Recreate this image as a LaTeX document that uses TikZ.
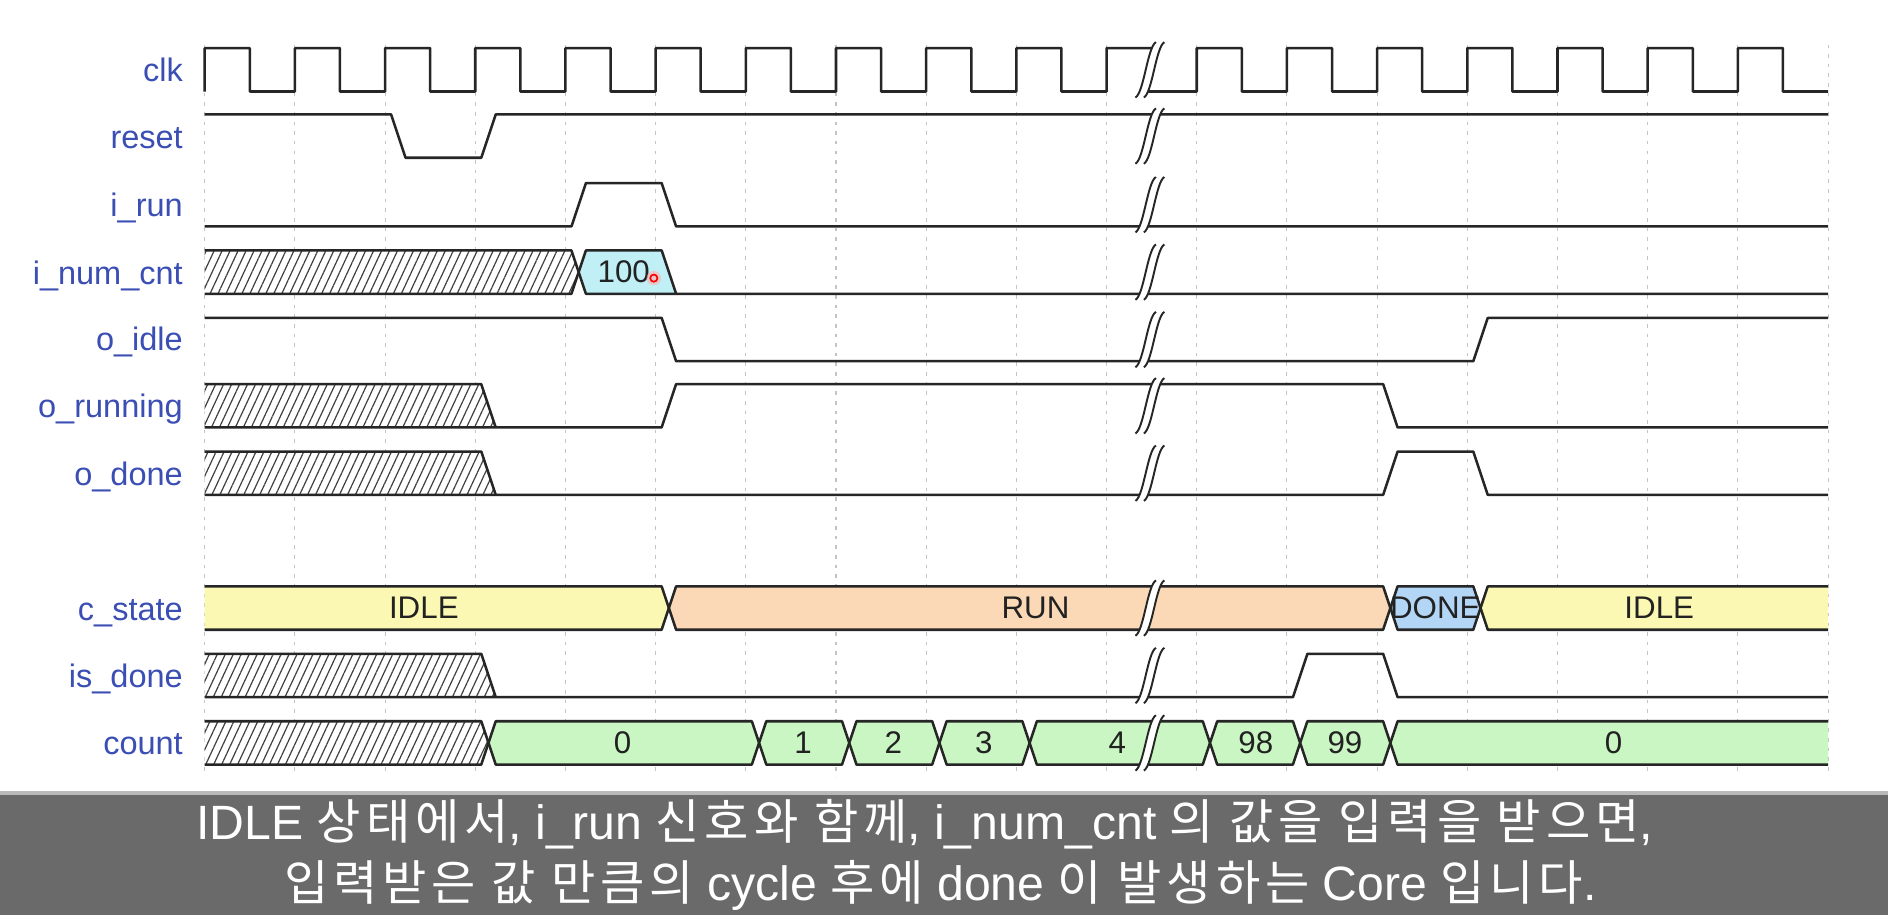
\documentclass[tikz,border=0pt]{standalone}
\usepackage{fontspec}
\setmainfont{Liberation Sans}
\newfontfamily\krfont[LetterSpace=10]{Noto Sans CJK KR}
\usetikzlibrary{patterns.meta}
\definecolor{wavec}{HTML}{262626}
\definecolor{lblc}{HTML}{3A4EB4}
\definecolor{gridc}{HTML}{C4C4C4}
\definecolor{idlec}{HTML}{FBF8B4}
\definecolor{runc}{HTML}{FBD9B6}
\definecolor{donec}{HTML}{B4D6F6}
\definecolor{cntc}{HTML}{C9F6C2}
\definecolor{cyanc}{HTML}{C0EFF6}
\definecolor{hatchc}{HTML}{404040}
\definecolor{bandc}{HTML}{6A6A6A}
\definecolor{valc}{HTML}{222222}
\newcommand{\brkmark}[2]{%
  \fill[white] (943,#2) .. controls (950,#2-4) and (953,#1+4) .. (960,#1) -- (967,#1) .. controls (960,#1+4) and (957,#2-4) .. (950,#2) -- cycle;
  \draw[brk] (943,#2) .. controls (950,#2-4) and (953,#1+4) .. (960,#1);
  \draw[brk] (950,#2) .. controls (957,#2-4) and (960,#1+4) .. (967,#1);
}
\begin{document}
\begin{tikzpicture}[x=1pt,y=-1pt,
  declare function={tx(\t)=170+74.9*\t;},
  wave/.style={draw=wavec,line width=2.1pt,line join=round},
  brk/.style={draw=wavec,line width=1.6pt},
  gridline/.style={draw=gridc,line width=0.9pt,dash pattern=on 3pt off 5pt},
  hatch/.style={pattern={Lines[angle=65,distance=6pt,line width=1pt]},pattern color=hatchc},
  lbl/.style={anchor=base east,text=lblc,inner sep=0pt,font=\fontsize{27}{30}\selectfont},
  val/.style={anchor=base,text=valc,inner sep=0pt,font=\fontsize{26}{28}\selectfont},
  captxt/.style={anchor=base,text=white,inner sep=0pt,font=\fontsize{40}{44}\selectfont}]
\useasboundingbox (0,0) rectangle (1568,760);
\fill[white] (0,0) rectangle (1568,760);
% grid
\foreach \k in {0,...,18} \draw[gridline] ({tx(\k)},37) -- ({tx(\k)},645);
% clk
\draw[wave] (170,76) \foreach \k in {0,...,9}{ -- ({tx(\k)},76) -- ({tx(\k)},40) -- ({tx(\k+0.5)},40) -- ({tx(\k+0.5)},76) }
  -- ({tx(10)},76) -- ({tx(10)},40) -- (963,40) -- (949,76)
  \foreach \k in {11,...,17}{ -- ({tx(\k)},76) -- ({tx(\k)},40) -- ({tx(\k+0.5)},40) -- ({tx(\k+0.5)},76) } -- ({tx(18)},76);
% reset
\draw[wave] (170,95) -- ({tx(2)+5},95) -- ({tx(2)+17},131) -- ({tx(3)+5},131) -- ({tx(3)+17},95) -- ({tx(18)},95);
% i_run
\draw[wave] (170,188) -- ({tx(4)+5},188) -- ({tx(4)+17},152) -- ({tx(5)+5},152) -- ({tx(5)+17},188) -- ({tx(18)},188);
% i_num_cnt
\fill[white] (170,208) -- ({tx(4)+5},208) -- ({tx(4)+11},226) -- ({tx(4)+5},244) -- (170,244) -- cycle;
\fill[hatch] (170,208) -- ({tx(4)+5},208) -- ({tx(4)+11},226) -- ({tx(4)+5},244) -- (170,244) -- cycle;
\draw[wave] (170,208) -- ({tx(4)+5},208) -- ({tx(4)+11},226) -- ({tx(4)+5},244) -- (170,244);
\fill[cyanc] ({tx(4)+11},226) -- ({tx(4)+17},208) -- ({tx(5)+5},208) -- ({tx(5)+17},244) -- ({tx(4)+17},244) -- cycle;
\draw[wave] ({tx(4)+11},226) -- ({tx(4)+17},208) -- ({tx(5)+5},208) -- ({tx(5)+17},244);
\draw[wave] ({tx(4)+11},226) -- ({tx(4)+17},244) -- ({tx(18)},244);
\node[val] (v100) at (518,235) {100};
\fill[red!30,opacity=0.6] (543,231) circle (6);
\draw[red,line width=1.4pt] (543,231) circle (3);
% o_idle
\draw[wave] (170,264) -- ({tx(5)+5},264) -- ({tx(5)+17},300) -- ({tx(14)+5},300) -- ({tx(14)+17},264) -- ({tx(18)},264);
% o_running
\fill[white] (170,319) -- ({tx(3)+5},319) -- ({tx(3)+17},355) -- (170,355) -- cycle;
\fill[hatch] (170,319) -- ({tx(3)+5},319) -- ({tx(3)+17},355) -- (170,355) -- cycle;
\draw[wave] (170,319) -- ({tx(3)+5},319) -- ({tx(3)+17},355);
\draw[wave] (170,355) -- ({tx(5)+5},355) -- ({tx(5)+17},319) -- ({tx(13)+5},319) -- ({tx(13)+17},355) -- ({tx(18)},355);
% o_done
\fill[white] (170,375) -- ({tx(3)+5},375) -- ({tx(3)+17},411) -- (170,411) -- cycle;
\fill[hatch] (170,375) -- ({tx(3)+5},375) -- ({tx(3)+17},411) -- (170,411) -- cycle;
\draw[wave] (170,375) -- ({tx(3)+5},375) -- ({tx(3)+17},411);
\draw[wave] (170,411) -- ({tx(13)+5},411) -- ({tx(13)+17},375) -- ({tx(14)+5},375) -- ({tx(14)+17},411) -- ({tx(18)},411);
% c_state
\fill[idlec] (170,487) -- ({tx(5)+5},487) -- ({tx(5)+11},505) -- ({tx(5)+5},523) -- (170,523) -- cycle;
\draw[wave] (170,487) -- ({tx(5)+5},487) -- ({tx(5)+11},505) -- ({tx(5)+5},523) -- (170,523);
\filldraw[wave,fill=runc] ({tx(5)+11},505) -- ({tx(5)+17},487) -- ({tx(13)+5},487) -- ({tx(13)+11},505) -- ({tx(13)+5},523) -- ({tx(5)+17},523) -- cycle;
\filldraw[wave,fill=donec] ({tx(13)+11},505) -- ({tx(13)+17},487) -- ({tx(14)+5},487) -- ({tx(14)+11},505) -- ({tx(14)+5},523) -- ({tx(13)+17},523) -- cycle;
\fill[idlec] ({tx(14)+11},505) -- ({tx(14)+17},487) -- ({tx(18)},487) -- ({tx(18)},523) -- ({tx(14)+17},523) -- cycle;
\draw[wave] ({tx(18)},487) -- ({tx(14)+17},487) -- ({tx(14)+11},505) -- ({tx(14)+17},523) -- ({tx(18)},523);
% is_done
\fill[white] (170,543) -- ({tx(3)+5},543) -- ({tx(3)+17},579) -- (170,579) -- cycle;
\fill[hatch] (170,543) -- ({tx(3)+5},543) -- ({tx(3)+17},579) -- (170,579) -- cycle;
\draw[wave] (170,543) -- ({tx(3)+5},543) -- ({tx(3)+17},579);
\draw[wave] (170,579) -- ({tx(12)+5},579) -- ({tx(12)+17},543) -- ({tx(13)+5},543) -- ({tx(13)+17},579) -- ({tx(18)},579);
% count
\fill[white] (170,599) -- ({tx(3)+5},599) -- ({tx(3)+11},617) -- ({tx(3)+5},635) -- (170,635) -- cycle;
\fill[hatch] (170,599) -- ({tx(3)+5},599) -- ({tx(3)+11},617) -- ({tx(3)+5},635) -- (170,635) -- cycle;
\draw[wave] (170,599) -- ({tx(3)+5},599) -- ({tx(3)+11},617) -- ({tx(3)+5},635) -- (170,635);
\foreach \a/\b in {3/6,6/7,7/8,8/9,9/11,11/12,12/13}
  \filldraw[wave,fill=cntc] ({tx(\a)+11},617) -- ({tx(\a)+17},599) -- ({tx(\b)+5},599) -- ({tx(\b)+11},617) -- ({tx(\b)+5},635) -- ({tx(\a)+17},635) -- cycle;
\fill[cntc] ({tx(13)+11},617) -- ({tx(13)+17},599) -- ({tx(18)},599) -- ({tx(18)},635) -- ({tx(13)+17},635) -- cycle;
\draw[wave] ({tx(18)},599) -- ({tx(13)+17},599) -- ({tx(13)+11},617) -- ({tx(13)+17},635) -- ({tx(18)},635);
% breaks
\brkmark{35}{81}
\brkmark{90}{136}
\brkmark{147}{193}
\brkmark{203}{249}
\brkmark{259}{305}
\brkmark{314}{360}
\brkmark{370}{416}
\brkmark{482}{528}
\brkmark{538}{584}
\brkmark{594}{640}
% bus values
\node[val] (s1) at (352,514) {IDLE};
\node[val] (s2) at (860,514) {RUN};
\node[val] (s3) at (1192,514) {DONE};
\node[val] (s4) at (1378,514) {IDLE};
\node[val] (c0) at (517,626) {0};
\node[val] (c1) at (667,626) {1};
\node[val] (c2) at (742,626) {2};
\node[val] (c3) at (817,626) {3};
\node[val] (c4) at (928,626) {4};
\node[val] (c98) at (1043,626) {98};
\node[val] (c99) at (1117,626) {99};
\node[val] (c0b) at (1340,626) {0};
% labels
\node[lbl] (lclk) at (152,68) {clk};
\node[lbl] (lreset) at (152,123) {reset};
\node[lbl] (lirun) at (152,180) {i\_run};
\node[lbl] (linum) at (152,236) {i\_num\_cnt};
\node[lbl] (loidle) at (152,291) {o\_idle};
\node[lbl] (lorun) at (152,347) {o\_running};
\node[lbl] (lodone) at (152,403) {o\_done};
\node[lbl] (lcst) at (152,515) {c\_state};
\node[lbl] (lisd) at (152,571) {is\_done};
\node[lbl] (lcnt) at (152,627) {count};
% caption band
\fill[bandc] (0,658) rectangle (1568,760);
\fill[gray!55] (0,657) rectangle (1568,660);
\node[captxt] (cap1) at (768,697) {IDLE {\krfont 상태에서}, i\_run {\krfont 신호와 함께}, i\_num\_cnt {\krfont 의 값을 입력을 받으면},};
\node[captxt] (cap2) at (781,748) {{\krfont 입력받은 값 만큼의} cycle {\krfont 후에} done {\krfont 이 발생하는} Core {\krfont 입니다}.};
\end{tikzpicture}
\end{document}
